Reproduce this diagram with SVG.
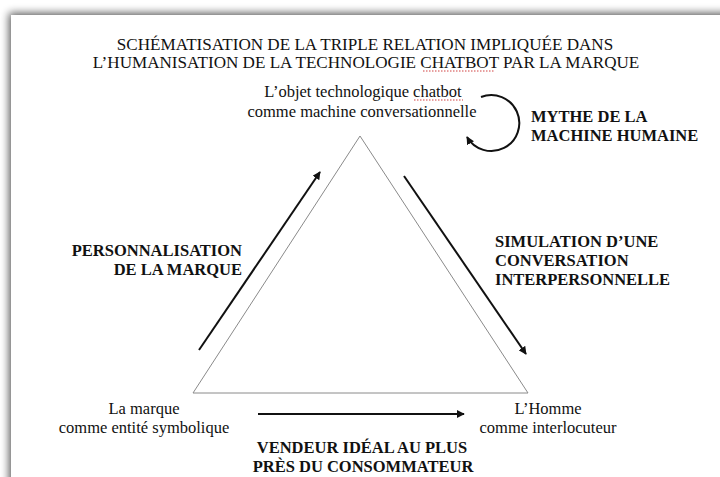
<svg xmlns="http://www.w3.org/2000/svg" width="720" height="477" viewBox="0 0 720 477">
<style>
.t{font-family:"Liberation Serif","Times New Roman",serif;font-size:16.5px;fill:#111}
.h{font-size:17.1px}
.b{font-family:"Liberation Serif","Times New Roman",serif;font-size:16.5px;font-weight:bold;fill:#111}
.tri{fill:none;stroke:#8a8a8a;stroke-width:1}
.arr{fill:none;stroke:#111;stroke-width:2}
.sq{stroke:#d04040;stroke-width:1;stroke-dasharray:1.5 1.5}
</style>
<defs>
<filter id="sh" x="-5%" y="-5%" width="110%" height="110%">
<feGaussianBlur in="SourceAlpha" stdDeviation="4"/>
<feOffset dx="-2" dy="-2" result="o"/>
<feComponentTransfer><feFuncA type="linear" slope="0.65"/></feComponentTransfer>
<feMerge><feMergeNode/><feMergeNode in="SourceGraphic"/></feMerge>
</filter>
<marker id="ah" viewBox="0 0 10 10" refX="9" refY="5" markerWidth="4" markerHeight="4" orient="auto" markerUnits="strokeWidth">
<path d="M0,0 L10,5 L0,10 z" fill="#111"/>
</marker>
</defs>
<rect width="720" height="477" fill="#fff"/>
<rect x="11" y="15" width="740" height="500" fill="#fff" filter="url(#sh)"/>

<g id="title">
<text class="t h" x="365" y="50" text-anchor="middle">SCHÉMATISATION DE LA TRIPLE RELATION IMPLIQUÉE DANS</text>
<text class="t h" x="366" y="68" text-anchor="middle">L’HUMANISATION DE LA TECHNOLOGIE CHATBOT PAR LA MARQUE</text>
<line class="sq" x1="423" y1="71" x2="495" y2="71"/>
</g>

<g id="triangle">
<polygon class="tri" points="360,136 193,393 528,393"/>
</g>

<g id="node-chatbot">
<text class="t" x="363" y="97" text-anchor="middle">L’objet technologique chatbot</text>
<text class="t" x="362" y="117" text-anchor="middle">comme machine conversationnelle</text>
<line class="sq" x1="414" y1="100" x2="463" y2="100"/>
</g>

<g id="node-marque">
<text class="t" x="144" y="414" text-anchor="middle">La marque</text>
<text class="t" x="144" y="433" text-anchor="middle">comme entité symbolique</text>
</g>

<g id="node-homme">
<text class="t" x="548" y="414" text-anchor="middle">L’Homme</text>
<text class="t" x="548" y="433" text-anchor="middle">comme interlocuteur</text>
</g>

<g id="label-mythe">
<text class="b" x="531" y="122">MYTHE DE LA</text>
<text class="b" x="531" y="141">MACHINE HUMAINE</text>
</g>

<g id="label-personnalisation">
<text class="b" x="242" y="256" text-anchor="end">PERSONNALISATION</text>
<text class="b" x="242" y="275" text-anchor="end">DE LA MARQUE</text>
</g>

<g id="label-simulation">
<text class="b" x="495" y="247">SIMULATION D’UNE</text>
<text class="b" x="495" y="266">CONVERSATION</text>
<text class="b" x="495" y="285">INTERPERSONNELLE</text>
</g>

<g id="label-vendeur">
<text class="b" x="362" y="453" text-anchor="middle">VENDEUR IDÉAL AU PLUS</text>
<text class="b" x="363" y="472" text-anchor="middle">PRÈS DU CONSOMMATEUR</text>
</g>

<g id="connectors">
<line class="arr" x1="199" y1="350" x2="320" y2="172" marker-end="url(#ah)"/>
<line class="arr" x1="404" y1="176" x2="526" y2="354" marker-end="url(#ah)"/>
<line class="arr" x1="258" y1="414" x2="464" y2="414" marker-end="url(#ah)"/>
<path class="arr" d="M481,97 A28,28 0 1 1 467,137" marker-end="url(#ah)"/>
</g>
</svg>
